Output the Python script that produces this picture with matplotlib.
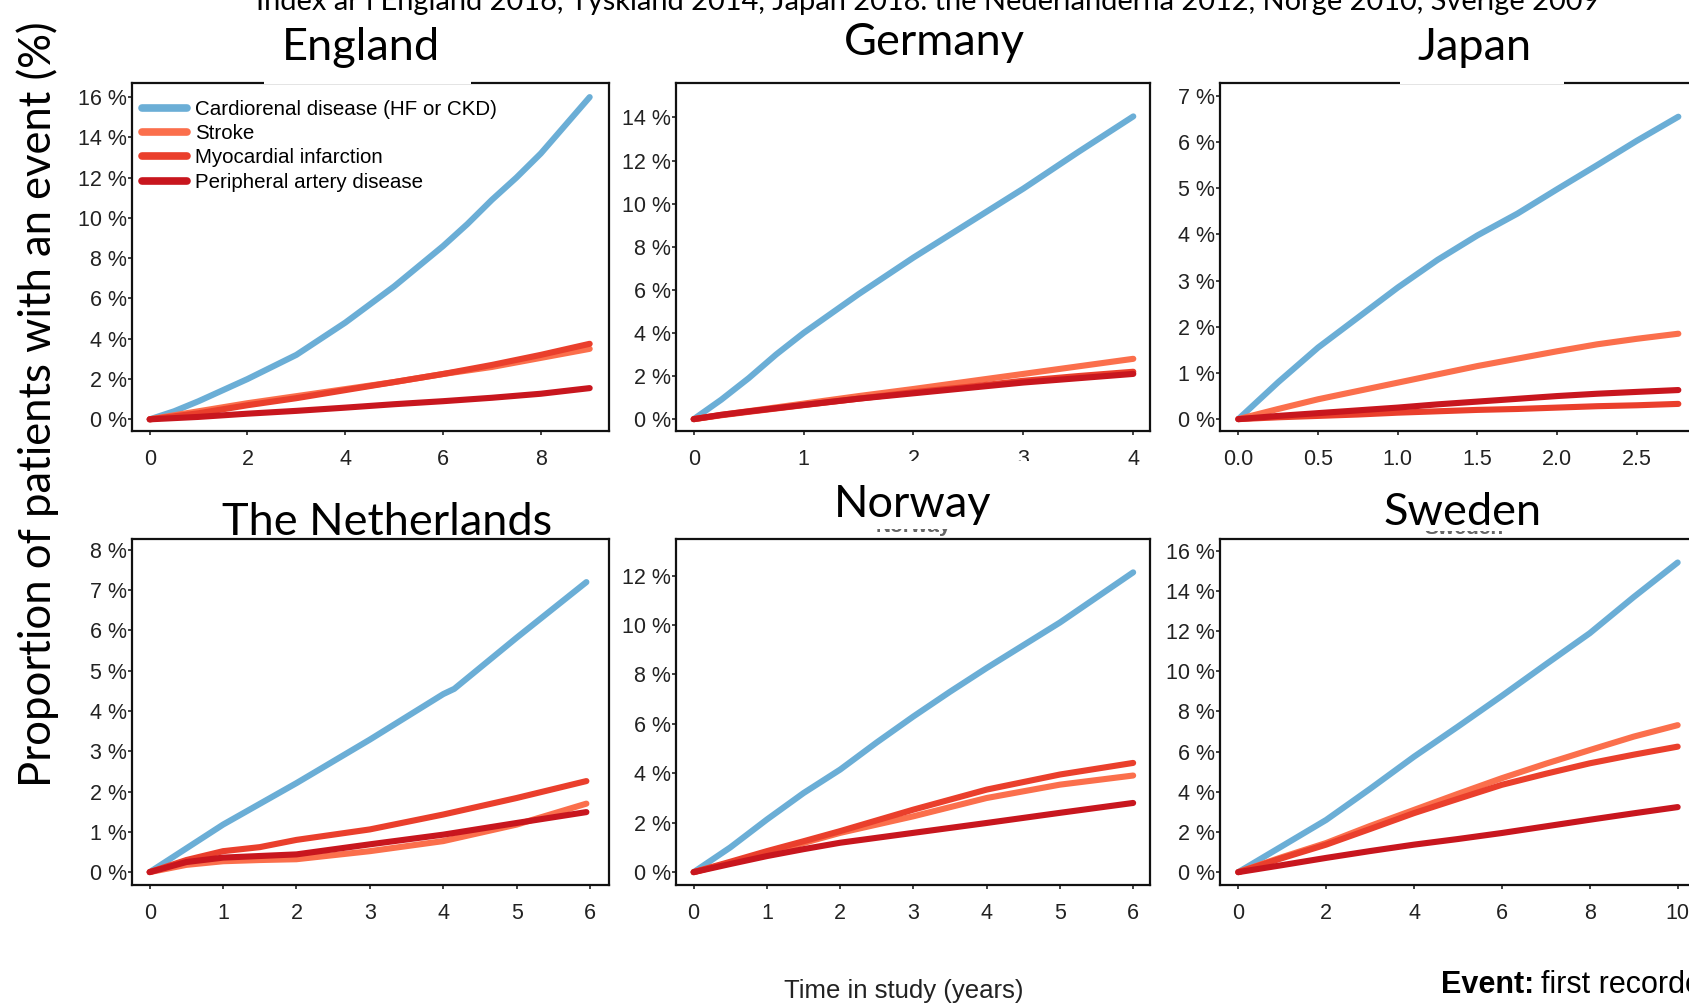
import matplotlib
matplotlib.use("Agg")
import matplotlib.pyplot as plt
from matplotlib.patches import Rectangle
from matplotlib.ticker import FixedLocator, FuncFormatter

# ---------------------------------------------------------------- data
series_names = ["Cardiorenal disease (HF or CKD)", "Stroke",
                "Myocardial infarction", "Peripheral artery disease"]
series_colors = ["#6BAED6", "#FB6F4C", "#EA3F2C", "#C8161E"]

# England
eng_x_blue = [0, 0.5, 1, 1.5, 2, 2.5, 3, 3.5, 4, 4.5, 5, 5.5, 6, 6.5, 7, 7.5, 8, 8.5, 9]
eng_blue = [0, 0.4, 0.9, 1.45, 2.0, 2.6, 3.2, 4.0, 4.8, 5.7, 6.6, 7.6, 8.6, 9.7,
            10.9, 12.0, 13.2, 14.6, 16.0]
eng_x = [0, 1, 2, 3, 4, 5, 6, 7, 8, 9]
eng_stroke = [0, 0.4, 0.8, 1.15, 1.5, 1.85, 2.25, 2.6, 3.05, 3.5]
eng_mi = [0, 0.3, 0.7, 1.05, 1.45, 1.85, 2.25, 2.7, 3.2, 3.75]
eng_pad = [0, 0.12, 0.28, 0.42, 0.58, 0.75, 0.9, 1.07, 1.27, 1.55]

# Germany
ger_x_blue = [0, 0.25, 0.5, 0.75, 1, 1.25, 1.5, 2, 2.5, 3, 3.5, 4]
ger_blue = [0, 0.9, 1.9, 3.0, 4.0, 4.9, 5.8, 7.5, 9.1, 10.7, 12.4, 14.05]
ger_x = [0, 0.25, 0.5, 1, 1.5, 2, 2.5, 3, 3.5, 4]
ger_stroke = [0, 0.2, 0.37, 0.72, 1.07, 1.4, 1.75, 2.1, 2.45, 2.8]
ger_mi = [0, 0.18, 0.34, 0.65, 0.95, 1.25, 1.5, 1.78, 2.0, 2.2]
ger_pad = [0, 0.2, 0.36, 0.66, 0.95, 1.2, 1.45, 1.7, 1.9, 2.1]

# Japan
jpn_x = [0, 0.25, 0.5, 0.75, 1.0, 1.25, 1.5, 1.75, 2.0, 2.25, 2.5, 2.76]
jpn_blue = [0, 0.8, 1.55, 2.2, 2.85, 3.45, 3.98, 4.45, 4.98, 5.5, 6.03, 6.55]
jpn_stroke = [0, 0.22, 0.43, 0.61, 0.79, 0.97, 1.15, 1.31, 1.47, 1.62, 1.74, 1.85]
jpn_mi = [0, 0.04, 0.07, 0.1, 0.14, 0.17, 0.2, 0.22, 0.25, 0.28, 0.3, 0.33]
jpn_pad = [0, 0.07, 0.13, 0.19, 0.25, 0.32, 0.38, 0.44, 0.5, 0.55, 0.59, 0.63]

# The Netherlands
nld_x_blue = [0, 1, 2, 3, 4, 4.15, 5, 5.95]
nld_blue = [0, 1.18, 2.21, 3.29, 4.42, 4.55, 5.82, 7.2]
nld_x = [0, 0.5, 1, 1.5, 2, 3, 4, 5, 5.95]
nld_stroke = [0, 0.18, 0.27, 0.3, 0.32, 0.52, 0.77, 1.18, 1.7]
nld_mi = [0, 0.3, 0.52, 0.62, 0.8, 1.06, 1.43, 1.84, 2.26]
nld_pad = [0, 0.25, 0.36, 0.4, 0.44, 0.69, 0.93, 1.22, 1.49]

# Norway
nor_x_blue = [0, 0.5, 1, 1.5, 2, 2.5, 3, 3.5, 4, 5, 6]
nor_blue = [0, 1.0, 2.13, 3.2, 4.15, 5.25, 6.3, 7.3, 8.26, 10.1, 12.13]
nor_x = [0, 0.5, 1, 1.5, 2, 3, 4, 5, 6]
nor_stroke = [0, 0.38, 0.78, 1.18, 1.59, 2.26, 3.0, 3.54, 3.91]
nor_mi = [0, 0.42, 0.85, 1.25, 1.66, 2.53, 3.34, 3.95, 4.42]
nor_pad = [0, 0.33, 0.65, 0.93, 1.19, 1.59, 1.99, 2.4, 2.8]

# Sweden
swe_x = [0, 1, 2, 3, 4, 5, 6, 7, 8, 9, 10]
swe_blue = [0, 1.3, 2.6, 4.15, 5.75, 7.25, 8.78, 10.35, 11.9, 13.7, 15.42]
swe_stroke = [0, 0.75, 1.45, 2.3, 3.1, 3.9, 4.68, 5.4, 6.08, 6.75, 7.32]
swe_mi = [0, 0.7, 1.37, 2.15, 2.94, 3.65, 4.35, 4.9, 5.42, 5.85, 6.25]
swe_pad = [0, 0.35, 0.71, 1.05, 1.37, 1.65, 1.95, 2.28, 2.61, 2.93, 3.24]

titles = ["England", "Germany", "Japan", "The Netherlands", "Norway", "Sweden"]
header = ("Index år i England 2016, Tyskland 2014, Japan 2018. the "
          "Nederländerna 2012, Norge 2010, Sverige 2009")
y_label = "Proportion of patients with an event (%)"
x_label = "Time in study (years)"
note_bold = "Event:"
note_text = "first recorded event"

# ---------------------------------------------------------------- layout
W, H = 1689, 1006
fig = plt.figure(figsize=(W / 100, H / 100), dpi=100)
fig.patch.set_facecolor("white")

TICK_FONT = "Liberation Sans"
BIG_FONT = "Lato"


def fig_rect(left, top, right, bottom):
    """Pixel box (top-left origin) -> figure fraction rect."""
    return [left / W, 1 - bottom / H, (right - left) / W, (bottom - top) / H]


def fx(x):
    return x / W


def fy(y):
    return 1 - y / H


panels = [
    dict(box=(132, 83, 609, 431), xlim=(-0.362, 9.395), ylim=(-0.58, 16.7),
         xticks=[0, 2, 4, 6, 8], yticks=list(range(0, 17, 2)), xfmt="{:.0f}",
         curves=[(eng_x_blue, eng_blue), (eng_x, eng_stroke), (eng_x, eng_mi), (eng_x, eng_pad)]),
    dict(box=(676, 83, 1150, 431), xlim=(-0.161, 4.152), ylim=(-0.55, 15.6),
         xticks=[0, 1, 2, 3, 4], yticks=list(range(0, 15, 2)), xfmt="{:.0f}",
         curves=[(ger_x_blue, ger_blue), (ger_x, ger_stroke), (ger_x, ger_mi), (ger_x, ger_pad)]),
    dict(box=(1220, 83, 1697, 431), xlim=(-0.115, 2.877), ylim=(-0.257, 7.28),
         xticks=[0, 0.5, 1.0, 1.5, 2.0, 2.5], yticks=list(range(0, 8)), xfmt="{:.1f}",
         curves=[(jpn_x, jpn_blue), (jpn_x, jpn_stroke), (jpn_x, jpn_mi), (jpn_x, jpn_pad)]),
    dict(box=(132, 539, 609, 885), xlim=(-0.241, 6.258), ylim=(-0.32, 8.27),
         xticks=list(range(0, 7)), yticks=list(range(0, 9)), xfmt="{:.0f}",
         curves=[(nld_x_blue, nld_blue), (nld_x, nld_stroke), (nld_x, nld_mi), (nld_x, nld_pad)]),
    dict(box=(676, 539, 1150, 885), xlim=(-0.241, 6.23), ylim=(-0.52, 13.48),
         xticks=list(range(0, 7)), yticks=list(range(0, 13, 2)), xfmt="{:.0f}",
         curves=[(nor_x_blue, nor_blue), (nor_x, nor_stroke), (nor_x, nor_mi), (nor_x, nor_pad)]),
    dict(box=(1220, 539, 1697, 885), xlim=(-0.416, 10.44), ylim=(-0.64, 16.59),
         xticks=list(range(0, 11, 2)), yticks=list(range(0, 17, 2)), xfmt="{:.0f}",
         curves=[(swe_x, swe_blue), (swe_x, swe_stroke), (swe_x, swe_mi), (swe_x, swe_pad)]),
]

axes = []
for p in panels:
    ax = fig.add_axes(fig_rect(*p["box"]))
    for (xs, ys), name, col in zip(p["curves"], series_names, series_colors):
        ax.plot(xs, ys, color=col, lw=4.4, solid_capstyle="round",
                solid_joinstyle="round", label=name)
    ax.set_xlim(*p["xlim"])
    ax.set_ylim(*p["ylim"])
    ax.xaxis.set_major_locator(FixedLocator(p["xticks"]))
    ax.yaxis.set_major_locator(FixedLocator(p["yticks"]))
    fmt = p["xfmt"]
    ax.xaxis.set_major_formatter(FuncFormatter(lambda v, _, f=fmt: f.format(v)))
    ax.yaxis.set_major_formatter(FuncFormatter(lambda v, _: f"{v:.0f} %"))
    for s in ax.spines.values():
        s.set_linewidth(1.6)
        s.set_color("#111111")
    ax.tick_params(axis="y", length=3, width=1.2, pad=0.8, labelsize=15.5,
                   labelcolor="#222222", color="#222222")
    ax.tick_params(axis="x", length=3, width=1.2, pad=10, labelsize=15.5,
                   labelcolor="#222222", color="#222222")
    for lab in ax.get_xticklabels() + ax.get_yticklabels():
        lab.set_fontfamily(TICK_FONT)
    axes.append(ax)

leg = axes[0].legend(loc="upper left", bbox_to_anchor=(0.02, 0.952), frameon=False,
                     borderaxespad=0, borderpad=0, handlelength=2.2,
                     handletextpad=0.4, labelspacing=0.26,
                     prop={"family": TICK_FONT, "size": 14.8})
for h in leg.get_lines():
    h.set_linewidth(5.5)

# original panel captions, mostly hidden under the white label boxes
fig.text(fx(913), fy(532), "Norway", ha="center", va="baseline", fontsize=15,
         fontweight="bold", family=TICK_FONT, color="#666666", zorder=3)
fig.text(fx(1464), fy(534), "Sweden", ha="center", va="baseline", fontsize=15,
         fontweight="bold", family=TICK_FONT, color="#666666", zorder=3)

# white boxes behind the country labels
for (l, t, r, b) in [(264, 28, 471, 84), (1400, 28, 1564, 84),
                     (835, 461, 1040, 529), (1395, 468, 1535, 531)]:
    fig.add_artist(Rectangle((fx(l), fy(b)), (r - l) / W, (b - t) / H,
                             transform=fig.transFigure, facecolor="white",
                             edgecolor="none", zorder=5))

# country labels
title_pos = [(361, 60), (934, 55), (1474, 60), (387, 535), (913, 517), (1463, 525)]
for name, (x, y) in zip(titles, title_pos):
    fig.text(fx(x), fy(y), name, ha="center", va="baseline", fontsize=32.5,
             family=BIG_FONT, color="black", zorder=6)

fig.text(fx(256), fy(10), header, ha="left", va="baseline", fontsize=20.9,
         family=BIG_FONT, color="black", zorder=6)
fig.text(fx(38), fy(404), y_label, ha="center", va="center", rotation=90,
         fontsize=31.4, family=BIG_FONT, color="black", zorder=6)
fig.text(fx(904), fy(991), x_label, ha="center", va="center", fontsize=18.5,
         family=TICK_FONT, color="#222222", zorder=6)

# footnote: bold lead-in followed by regular text on the same baseline
bold_part = fig.text(fx(1441), fy(993), note_bold, ha="left", va="baseline",
                     fontsize=22, fontweight="bold", family=TICK_FONT,
                     color="black", zorder=6)
fig.canvas.draw()
bb = bold_part.get_window_extent()
fig.text((bb.x1 + 7) / W, fy(993), note_text, ha="left", va="baseline",
         fontsize=22, family=TICK_FONT, color="black", zorder=6)

fig.savefig("out.png", dpi=100, facecolor="white")
